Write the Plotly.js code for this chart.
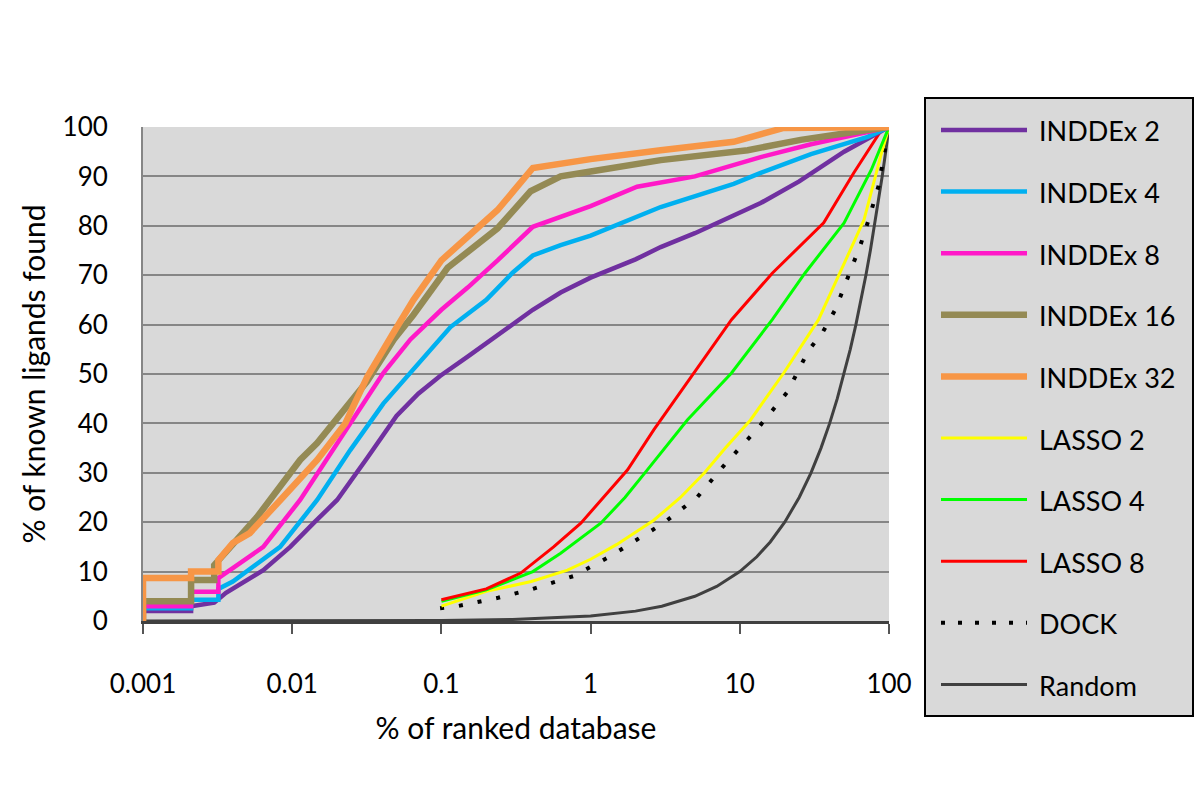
<!DOCTYPE html>
<html>
<head>
<meta charset="utf-8">
<script src="https://cdn.plot.ly/plotly-3.0.1.min.js"></script>
<style>
  html, body { margin: 0; padding: 0; background: #ffffff; }
  #chart { width: 1200px; height: 807px; }
</style>
</head>
<body>
<div id="chart"></div>
<script>
// ---------------- DATA ----------------
const xTickVals = [0.001, 0.01, 0.1, 1, 10, 100];
const xTickText = ["0.001", "0.01", "0.1", "1", "10", "100"];
const yTickVals = [0, 10, 20, 30, 40, 50, 60, 70, 80, 90, 100];

const seriesNames = ["INDDEx 2", "INDDEx 4", "INDDEx 8", "INDDEx 16", "INDDEx 32",
                     "LASSO 2", "LASSO 4", "LASSO 8", "DOCK", "Random"];

const inddex2X = [0.001, 0.001, 0.0021, 0.0021, 0.003, 0.0036, 0.0064, 0.0097, 0.0139, 0.02, 0.0318, 0.05, 0.07, 0.098, 0.15, 0.25, 0.41, 0.63, 1, 2, 2.95, 5, 10, 13.8, 25, 50, 100];
const inddex2Y = [0, 2, 2, 3, 3.7, 5.7, 10.3, 15, 19.8, 24.5, 33, 41.5, 46, 49.6, 53.5, 58.3, 63, 66.5, 69.5, 73.2, 75.7, 78.5, 82.5, 84.6, 89, 95, 100];

const inddex4X = [0.001, 0.001, 0.0021, 0.0021, 0.0032, 0.0032, 0.004, 0.0083, 0.0147, 0.0245, 0.0408, 0.069, 0.115, 0.2, 0.3, 0.41, 0.63, 1, 2.95, 9.1, 13.8, 30, 72, 100];
const inddex4Y = [0, 2.6, 2.6, 4.3, 4.3, 6.5, 8, 15, 24.5, 34.6, 44, 52, 59.5, 65, 70.5, 74, 76.1, 78, 83.8, 88.5, 90.7, 94.5, 98, 100];

const inddex8X = [0.001, 0.001, 0.0021, 0.0021, 0.0032, 0.0032, 0.004, 0.0064, 0.0113, 0.0188, 0.0245, 0.0408, 0.062, 0.1, 0.15, 0.238, 0.41, 0.63, 1, 2.05, 5, 13.8, 30, 72, 100];
const inddex8Y = [0, 3, 3, 5.9, 5.9, 8.7, 10.7, 15, 24.5, 34.6, 40, 50.2, 57, 63, 67.5, 73, 79.8, 81.8, 84, 87.9, 90, 93.9, 96.5, 99, 100];

const inddex16X = [0.001, 0.001, 0.0021, 0.0021, 0.003, 0.003, 0.0058, 0.0113, 0.0147, 0.0188, 0.0227, 0.0318, 0.048, 0.065, 0.11, 0.238, 0.396, 0.46, 0.63, 1, 2.95, 11.3, 25.6, 72, 100];
const inddex16Y = [0, 4, 4, 8.3, 8.3, 11.3, 21, 32.6, 36, 40, 43, 48.5, 57, 62, 71.5, 79.5, 87, 88, 90, 91, 93.3, 95.3, 97.4, 99.4, 100];

const inddex32X = [0.001, 0.001, 0.0021, 0.0021, 0.0032, 0.0032, 0.004, 0.0052, 0.0087, 0.0147, 0.0227, 0.0318, 0.0476, 0.065, 0.1, 0.14, 0.238, 0.41, 0.63, 1, 2.95, 9.1, 19.7, 40, 100];
const inddex32Y = [0, 8.7, 8.7, 10, 10, 12.3, 15.8, 17.8, 25.1, 32.6, 40, 49.4, 58.3, 65, 73, 76.8, 83.2, 91.7, 92.7, 93.5, 95.3, 97, 99.8, 100, 100];

const lasso2X = [0.1, 0.2, 0.4, 0.7, 1, 1.5, 2.65, 4, 5.8, 8, 11.8, 19.7, 33.7, 47.5, 68, 89, 100];
const lasso2Y = [3, 6, 8, 10.3, 12.5, 15.5, 20.4, 25, 30, 35, 40.7, 50.2, 61, 71, 81.2, 94.7, 100];

const lasso4X = [0.1, 0.2, 0.41, 0.63, 1.17, 1.7, 2.4, 4.45, 8.8, 16.5, 27.3, 50, 76, 98, 100];
const lasso4Y = [4, 6.3, 10, 13.7, 19.8, 25, 30.6, 40.7, 50.2, 61, 70.4, 80.6, 91.3, 99.4, 100];

const lasso8X = [0.1, 0.2, 0.34, 0.565, 0.86, 1.77, 2.65, 4.9, 8.8, 16.5, 36.5, 58, 89, 100];
const lasso8Y = [4.3, 6.5, 9.7, 15, 19.8, 30.6, 38.7, 50.2, 61, 70.4, 80.6, 90.7, 99.4, 100];

const dockX = [0.098, 0.128, 0.24, 0.41, 0.77, 1.37, 3.07, 5.2, 8.2, 13.2, 20.9, 28.8, 36, 43.6, 57, 65, 73, 85, 100];
const dockY = [2.6, 3.0, 4.7, 6.5, 9.1, 13.2, 19.8, 25.1, 32.2, 39, 46.4, 54.7, 58.5, 63, 72, 76.5, 81.2, 88, 100];

const randomX = [0.001, 0.01, 0.1, 0.3, 1, 2, 3, 5, 7, 10, 13, 16, 20, 25, 30, 35, 40, 45, 50, 55, 60, 65, 70, 75, 80, 85, 90, 95, 100];
const randomY = [0.001, 0.01, 0.1, 0.3, 1, 2, 3, 5, 7, 10, 13, 16, 20, 25, 30, 35, 40, 45, 50, 55, 60, 65, 70, 75, 80, 85, 90, 95, 100];

// ---------------- STYLES ----------------
const FONT = "Lato, 'Open Sans', 'DejaVu Sans', sans-serif";
const styles = [
  { color: "#7030a0", width: 4.5, dash: "solid" },
  { color: "#00b0f0", width: 4.5, dash: "solid" },
  { color: "#ff19c8", width: 4.5, dash: "solid" },
  { color: "#948a54", width: 6.5, dash: "solid" },
  { color: "#f79646", width: 6.5, dash: "solid" },
  { color: "#ffff00", width: 3, dash: "solid" },
  { color: "#00ff00", width: 3, dash: "solid" },
  { color: "#ff0000", width: 3, dash: "solid" },
  { color: "#000000", width: 4, dash: "4px,15px" },
  { color: "#404040", width: 3, dash: "solid" }
];

const xs = [inddex2X, inddex4X, inddex8X, inddex16X, inddex32X, lasso2X, lasso4X, lasso8X, dockX, randomX];
const ys = [inddex2Y, inddex4Y, inddex8Y, inddex16Y, inddex32Y, lasso2Y, lasso4Y, lasso8Y, dockY, randomY];

// drawing order: random first (behind), then dock, lasso, inddex
const drawOrder = [9, 8, 5, 6, 7, 0, 1, 2, 3, 4];
const traces = drawOrder.map(i => ({
  type: "scatter",
  mode: "lines",
  name: seriesNames[i],
  x: xs[i],
  y: ys[i],
  line: { color: styles[i].color, width: styles[i].width, dash: styles[i].dash },
  showlegend: false,
  hoverinfo: "skip"
}));

// ---------------- LAYOUT ----------------
const L = 143, R = 889, T = 127, B = 621;
const px2x = p => (p - L) / (R - L);
const px2y = p => (B - p) / (B - T);

const shapes = [{
  type: "rect", xref: "paper", yref: "paper",
  x0: px2x(925), x1: px2x(1193), y0: px2y(716), y1: px2y(98),
  line: { color: "#000000", width: 2 }, fillcolor: "#d9d9d9", layer: "below"
}];
const annotations = [];
seriesNames.forEach((nm, i) => {
  const yy = 130 + i * 61.6;
  shapes.push({
    type: "line", xref: "paper", yref: "paper",
    x0: px2x(941), x1: px2x(1027), y0: px2y(yy), y1: px2y(yy),
    line: { color: styles[i].color, width: styles[i].width, dash: i === 8 ? "4px,13px" : "solid" }
  });
  annotations.push({
    xref: "paper", yref: "paper", x: px2x(1037), y: px2y(yy + 1),
    xanchor: "left", yanchor: "middle", showarrow: false,
    text: nm, font: { family: FONT, size: 27, color: "#000000" }
  });
});

const layout = {
  width: 1200, height: 807,
  margin: { l: L, r: 1200 - R, t: T, b: 807 - B, pad: 0 },
  paper_bgcolor: "#ffffff",
  plot_bgcolor: "#d9d9d9",
  font: { family: FONT, size: 25, color: "#000000" },
  showlegend: false,
  xaxis: {
    type: "log",
    range: [-3, 2],
    tickvals: xTickVals,
    ticktext: xTickText,
    ticks: "outside", ticklen: 10, tickwidth: 2, tickcolor: "#555555",
    showgrid: false, zeroline: false,
    showline: true, linecolor: "#404040", linewidth: 3,
    tickfont: { family: FONT, size: 26, color: "#000000" },
    ticklabelstandoff: 28,
    title: { text: "% of ranked database", font: { family: FONT, size: 30, color: "#000000" }, standoff: 20 }
  },
  yaxis: {
    range: [0, 100],
    tickvals: yTickVals,
    ticks: "", showgrid: true, gridcolor: "#868686", gridwidth: 2,
    zeroline: false,
    showline: true, linecolor: "#868686", linewidth: 2,
    tickfont: { family: FONT, size: 26, color: "#000000" },
    ticklabelstandoff: 28,
    title: { text: "% of known ligands found", font: { family: FONT, size: 30, color: "#000000" }, standoff: 8 }
  },
  shapes: shapes,
  annotations: annotations
};

Plotly.newPlot("chart", traces, layout, { staticPlot: true, displayModeBar: false });
</script>
</body>
</html>
